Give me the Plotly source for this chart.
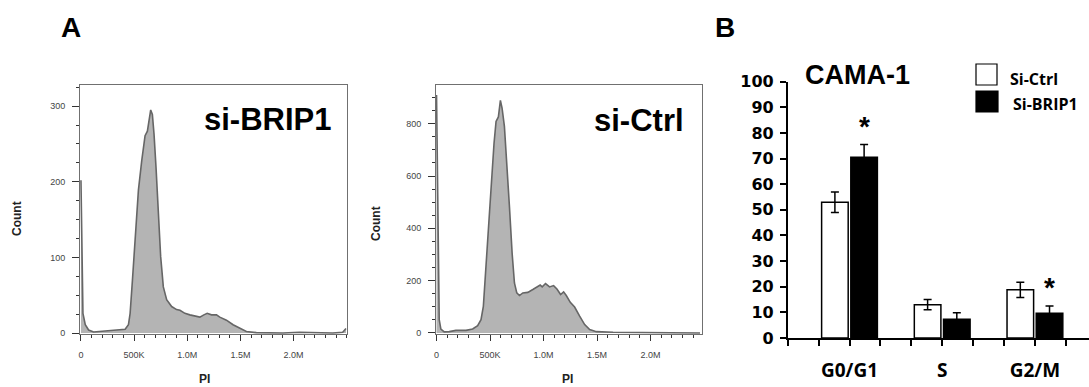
import plotly.graph_objects as go

W, H = 1089, 387

# ---------------- data ----------------
# Panel A histogram 1 : si-BRIP1
pi_brip1 = [0, 18750, 40625, 71875, 118750, 181250, 275000, 368750, 415625, 446875,
            462500, 484375, 509375, 540625, 571875, 603125, 625000, 643750, 656250,
            671875, 687500, 706250, 728125, 750000, 775000, 806250, 853125, 900000,
            931250, 978125, 1025000, 1071875, 1118750, 1156250, 1187500, 1228125,
            1275000, 1306250, 1368750, 1431250, 1493750, 1556250, 1650000, 1900000,
            2056250, 2368750, 2462500, 2493750]
count_brip1 = [202, 26, 11, 4, 1.3, 2, 3, 3.5, 5, 11,
               26, 70, 123, 189, 228, 261, 267, 281, 295,
               289, 263, 219, 158, 101, 61, 44, 35, 31,
               30, 26, 24, 23, 21, 24, 26, 24,
               24, 21, 17, 11, 7, 2, 0.5, 0,
               1, 0, 1, 6]

# Panel A histogram 2 : si-Ctrl
pi_ctrl = [0, 12500, 25000, 40625, 71875, 118750, 181250, 275000, 337500, 384375,
           415625, 437500, 462500, 487500, 512500, 537500, 556250, 578125, 596875,
           612500, 634375, 656250, 681250, 706250, 728125, 750000, 775000, 806250,
           853125, 900000, 946875, 968750, 987500, 1018750, 1056250, 1093750,
           1125000, 1159375, 1187500, 1212500, 1250000, 1290625, 1337500, 1384375,
           1431250, 1493750, 1650000, 1775000, 1837500, 2462500]
count_ctrl = [910, 331, 51, 15, 4, 5, 10, 10, 15, 28,
              51, 102, 255, 433, 599, 726, 809, 826, 889,
              860, 790, 662, 484, 306, 191, 153, 143, 153,
              155, 166, 178, 183, 176, 189, 176, 181,
              168, 147, 157, 143, 117, 99, 64, 32,
              13, 5, 2.5, 2.5, 0, 0]

hist_ticks = [0, 500000, 1000000, 1500000, 2000000]
hist_ticktext = ["0", "500K", "1.0M", "1.5M", "2.0M"]

# Panel B bar chart
phases = ["G0/G1", "S", "G2/M"]
ctrl_mean = [53, 13, 18.8]
ctrl_err = [4, 2, 3]
brip1_mean = [70.5, 7.3, 9.7]
brip1_err = [5, 2.6, 2.8]
significant = [True, False, True]
series_names = ["Si-Ctrl", "Si-BRIP1"]

# ---------------- helpers ----------------
def fx(p):
    return p / W

def fy(p):
    return 1 - p / H

ARIAL = "Arial, Liberation Sans, sans-serif"
CAL = "Open Sans, Lato, sans-serif"

fig = go.Figure()

HIST_LINE = "#666666"
HIST_FILL = "#b4b4b4"

fig.add_trace(go.Scatter(x=pi_brip1, y=count_brip1, mode="lines", fill="tozeroy",
                         line=dict(color=HIST_LINE, width=1.6), fillcolor=HIST_FILL,
                         xaxis="x", yaxis="y", showlegend=False))
fig.add_trace(go.Scatter(x=pi_ctrl, y=count_ctrl, mode="lines", fill="tozeroy",
                         line=dict(color=HIST_LINE, width=1.6), fillcolor=HIST_FILL,
                         xaxis="x2", yaxis="y2", showlegend=False))

xpos = [3 * i + 2 for i in range(len(phases))]

fig.add_trace(go.Bar(x=xpos, y=ctrl_mean, name=series_names[0],
                     marker=dict(color="white", line=dict(color="black", width=1.5)),
                     error_y=dict(type="data", array=ctrl_err, color="black", thickness=1.5, width=4),
                     xaxis="x3", yaxis="y3", showlegend=False))
fig.add_trace(go.Bar(x=xpos, y=brip1_mean, name=series_names[1],
                     marker=dict(color="black", line=dict(color="black", width=1.5)),
                     error_y=dict(type="data", array=brip1_err, color="black", thickness=1.5, width=4),
                     xaxis="x3", yaxis="y3", showlegend=False))

hist_axis_common = dict(showgrid=False, zeroline=False, showline=True, linecolor="#707070",
                        linewidth=1, mirror=True, ticks="outside", tickcolor="#333333",
                        automargin=False,
                        tickfont=dict(family=ARIAL, size=9, color="#444444"))

fig.update_layout(
    template="none",
    width=W, height=H, margin=dict(l=0, r=0, t=0, b=0, pad=0, autoexpand=False),
    paper_bgcolor="white", plot_bgcolor="white",
    barmode="group", bargap=0.37, bargroupgap=0.09,
    xaxis=dict(domain=[fx(80), fx(347)], range=[-9000, 2503000], anchor="y",
               tickvals=hist_ticks, ticktext=hist_ticktext, ticklen=6,
               minor=dict(dtick=100000, ticks="outside", ticklen=3, tickcolor="#333333"),
               ticklabelstandoff=6, **hist_axis_common),
    yaxis=dict(domain=[fy(334), fy(85)], range=[-1.3, 328], anchor="x",
               dtick=100, ticklen=7,
               minor=dict(dtick=25, ticks="outside", ticklen=3, tickcolor="#333333"),
               ticklabelstandoff=5, **hist_axis_common),
    xaxis2=dict(domain=[fx(436), fx(702)], range=[-5000, 2481000], anchor="y2",
                tickvals=hist_ticks, ticktext=hist_ticktext, ticklen=6,
                minor=dict(dtick=100000, ticks="outside", ticklen=3, tickcolor="#333333"),
                ticklabelstandoff=6, **hist_axis_common),
    yaxis2=dict(domain=[fy(334), fy(85)], range=[-4, 948], anchor="x2",
                dtick=200, ticklen=7,
                minor=dict(dtick=50, ticks="outside", ticklen=3, tickcolor="#333333"),
                ticklabelstandoff=5, **hist_axis_common),
    xaxis3=dict(domain=[fx(787.7), 1], range=[0, 9.75], anchor="y3",
                tickvals=xpos, ticktext=phases, ticks="outside", ticklen=6,
                tickcolor="black", tickwidth=1.5, automargin=False,
                minor=dict(dtick=1, ticks="outside", ticklen=6, tickcolor="black", tickwidth=1.5),
                showgrid=False, zeroline=False, showline=True, linecolor="black", linewidth=1.5,
                tickfont=dict(family=CAL, size=19, color="black", weight="bold"),
                ticklabelstandoff=8),
    yaxis3=dict(domain=[fy(338), fy(81.7)], range=[0, 100], anchor="x3",
                dtick=10, ticks="outside", ticklen=6, tickcolor="black", tickwidth=1.5,
                automargin=False,
                showgrid=False, zeroline=False, showline=True, linecolor="black", linewidth=1.5,
                tickfont=dict(family="DejaVu Sans, sans-serif", size=16, color="black", weight="bold"),
                ticklabelstandoff=3),
)

ann = []

def note(text, px, py, size, family=ARIAL, xanchor="center", angle=0, color="black"):
    ann.append(dict(x=fx(px), y=fy(py), xref="paper", yref="paper", text=text,
                    xanchor=xanchor, yanchor="middle", textangle=angle, showarrow=False,
                    font=dict(family=family, size=size, color=color)))

# panel letters
note("<b>A</b>", 71, 28, 28)
note("<b>B</b>", 725, 28, 28)
# histogram labels
note("<b>si-BRIP1</b>", 333, 119, 31, xanchor="right")
note("<b>si-Ctrl</b>", 686, 121, 31, xanchor="right")
for cx, cy in [(17, 219), (376, 223)]:
    note("<b>Count</b>", cx, cy, 12, angle=-90, color="#222222")
for cx in [204, 567]:
    note("<b>PI</b>", cx, 379, 12, color="#222222")
# bar chart title
note("<b>CAMA-1</b>", 857, 75, 27)
# significance asterisks
for i, sig in enumerate(significant):
    if sig:
        ann.append(dict(x=xpos[i], y=brip1_mean[i] + brip1_err[i], xref="x3", yref="y3",
                        xshift=15, yshift=18, yanchor="middle", text="<b>*</b>", showarrow=False,
                        font=dict(family=ARIAL, size=28, color="black")))
# legend text
note("<b>%s</b>" % series_names[0], 1008, 79, 16, family=CAL, xanchor="left")
note("<b>%s</b>" % series_names[1], 1011, 104, 16, family=CAL, xanchor="left")
fig.update_layout(annotations=ann)

shapes = [
    dict(type="rect", xref="paper", yref="paper", x0=fx(976), x1=fx(997), y0=fy(85), y1=fy(64),
         fillcolor="white", line=dict(color="black", width=1.2)),
    dict(type="rect", xref="paper", yref="paper", x0=fx(976), x1=fx(998), y0=fy(112), y1=fy(91),
         fillcolor="black", line=dict(color="black", width=1.2)),
]
fig.update_layout(shapes=shapes)

fig.write_html("out.html")
